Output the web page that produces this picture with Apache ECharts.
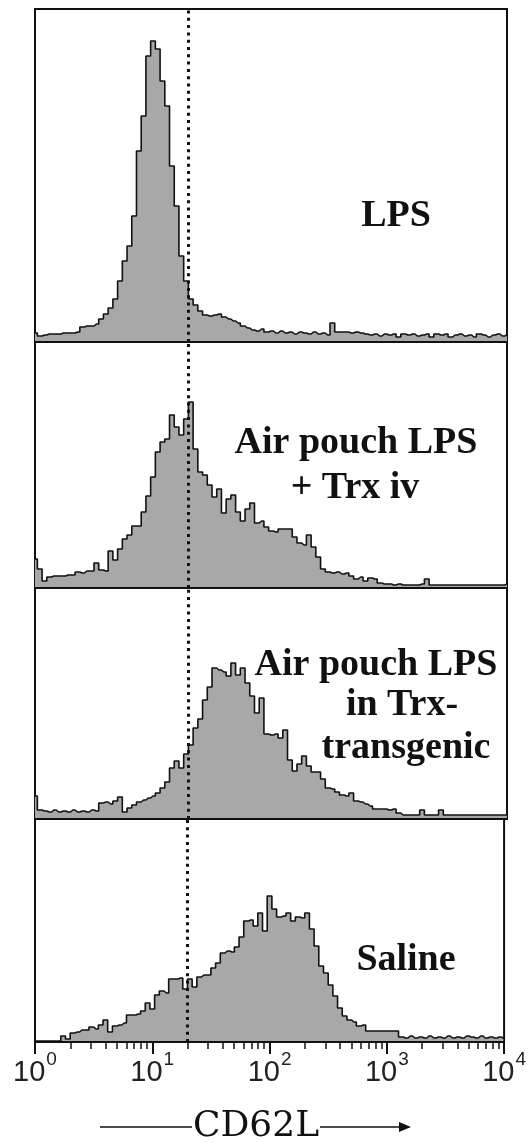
<!DOCTYPE html>
<html>
<head>
<meta charset="utf-8">
<title>CD62L histograms</title>
<script src="https://cdn.jsdelivr.net/npm/echarts@6/dist/echarts.min.js"></script>
<style>
  html, body { margin: 0; padding: 0; background: #fff; }
  #chart { width: 529px; height: 1143px; }
</style>
</head>
<body>
<div id="chart"></div>
<script>
// channel grid in log10 units, 0.04 decade per bin, 10^0 .. 10^4
const binStep = 0.04
const decadeLabels = ['0', '1', '2', '3', '4']
const gateValue = 20

const panelLabels = [
  ['LPS'],
  ['Air pouch LPS', '+ Trx iv'],
  ['Air pouch LPS', 'in Trx-', 'transgenic'],
  ['Saline']
]

// event counts per channel
const lpsCounts = [
  8, 5, 6, 7, 7, 7, 8, 8, 8, 9,
  14, 15, 15, 17, 22, 27, 33, 42, 60, 80,
  95, 125, 190, 225, 285, 300, 292, 260, 235, 175,
  135, 85, 60, 42, 36, 30, 26, 25, 26, 27,
  24, 22, 20, 18, 15, 13, 11, 10, 12, 9,
  10, 8, 10, 8, 9, 7, 9, 8, 7, 9,
  7, 8, 6, 18, 9, 9, 9, 8, 9, 8,
  7, 6, 7, 5, 7, 6, 7, 4, 7, 6,
  7, 5, 6, 7, 4, 7, 6, 7, 4, 6,
  7, 5, 6, 4, 7, 6, 4, 6, 7, 5, 6
]
const trxIvCounts = [
  28, 18, 6, 10, 11, 11, 11, 12, 12, 15,
  14, 16, 16, 24, 17, 16, 36, 27, 38, 48,
  52, 61, 61, 75, 91, 110, 135, 145, 148, 172,
  160, 152, 168, 185, 138, 115, 112, 102, 90, 98,
  74, 88, 92, 75, 66, 78, 84, 64, 66, 60,
  56, 55, 58, 58, 58, 50, 44, 42, 52, 40,
  30, 18, 15, 14, 15, 13, 14, 11, 8, 10,
  6, 9, 8, 4, 3, 3, 2, 3, 2, 2,
  2, 2, 3, 8, 2, 2, 2, 2, 2, 2,
  2, 2, 2, 2, 2, 2, 2, 2, 2, 2, 3
]
const transgenicCounts = [
  22, 8, 7, 6, 8, 6, 7, 6, 8, 6,
  7, 6, 8, 7, 15, 16, 14, 17, 21, 6,
  10, 13, 16, 18, 20, 22, 25, 30, 36, 50,
  57, 50, 64, 73, 90, 99, 118, 131, 150, 148,
  146, 142, 155, 143, 150, 135, 122, 105, 120, 84,
  83, 84, 80, 88, 58, 47, 54, 62, 52, 46,
  46, 39, 30, 29, 26, 23, 22, 25, 17, 16,
  14, 12, 9, 9, 9, 8, 9, 5, 3, 3,
  3, 3, 8, 3, 3, 3, 8, 3, 3, 3,
  3, 3, 3, 3, 3, 3, 3, 3, 3, 3, 3
]
const salineCounts = [
  0, 0, 0, 0, 0, 0, 5, 2, 8, 9,
  11, 11, 14, 12, 16, 21, 9, 15, 16, 18,
  26, 26, 27, 30, 38, 32, 46, 50, 48, 62,
  62, 63, 52, 62, 54, 64, 66, 66, 73, 78,
  88, 90, 89, 94, 104, 120, 121, 115, 128, 110,
  145, 132, 124, 125, 128, 120, 124, 123, 128, 112,
  95, 75, 68, 56, 45, 33, 25, 21, 19, 15,
  16, 10, 10, 10, 10, 10, 10, 10, 4, 3,
  5, 3, 4, 3, 5, 3, 4, 3, 5, 3,
  4, 3, 5, 4, 3, 5, 3, 4, 3, 4, 2
]

const panels = [lpsCounts, trxIvCounts, transgenicCounts, salineCounts]
const panelBoxes = [
  { top: 9, height: 333 },
  { top: 342, height: 246 },
  { top: 588, height: 231 },
  { top: 819, height: 223 }
]
const labelSpots = [
  [[396, 216]],
  [[356, 443], [355, 488]],
  [[376, 665], [402, 705], [406, 748]],
  [[406, 960]]
]

const majorTicks = decadeLabels.map(Number)
const minorTicks = []
for (let d = 0; d < 4; d++) {
  for (const k of [2, 3, 4, 5, 6, 7, 8, 9]) minorTicks.push(d + Math.log10(k))
}
const gateLog = Math.log10(gateValue)

const chart = echarts.init(document.getElementById('chart'), null, { renderer: 'canvas' })

const grid = panelBoxes.map(b => ({
  left: 35,
  right: 22,
  top: b.top,
  height: b.height,
  show: true,
  borderColor: '#111',
  borderWidth: 2,
  backgroundColor: 'transparent'
}))

const xAxis = panelBoxes.map((b, i) => ({
  gridIndex: i,
  type: 'value',
  min: 0,
  max: 4,
  axisLine: { show: false },
  splitLine: { show: false },
  axisTick: i === 3
    ? { show: true, customValues: majorTicks, length: 13, lineStyle: { color: '#111', width: 2 } }
    : { show: false },
  axisLabel: i === 3
    ? {
        show: true,
        customValues: majorTicks,
        margin: 16,
        formatter: v => '{b|10}{s|' + decadeLabels[Math.round(v)] + '}',
        rich: {
          b: { fontFamily: 'Liberation Sans', fontSize: 29, lineHeight: 29, color: '#222', verticalAlign: 'bottom' },
          s: { fontFamily: 'Liberation Sans', fontSize: 19, lineHeight: 19, color: '#222', verticalAlign: 'bottom', padding: [0, 0, 18, 1] }
        }
      }
    : { show: false }
}))
// minor decade ticks under the bottom panel
xAxis.push({
  gridIndex: 3,
  type: 'value',
  min: 0,
  max: 4,
  position: 'bottom',
  axisLine: { show: false },
  splitLine: { show: false },
  axisLabel: { show: false },
  axisTick: { show: true, customValues: minorTicks, length: 7, lineStyle: { color: '#111', width: 1.5 } }
})

const yAxis = panelBoxes.map((b, i) => ({
  gridIndex: i,
  type: 'value',
  min: -1,
  max: b.height - 1,
  show: false
}))

const series = panels.map((counts, i) => ({
  type: 'line',
  xAxisIndex: i,
  yAxisIndex: i,
  data: counts.map((c, k) => [k * binStep, c]),
  step: 'middle',
  symbol: 'none',
  silent: true,
  lineStyle: { color: '#111', width: 1.6 },
  areaStyle: { color: '#a8a8a8', opacity: 1 },
  markLine: {
    silent: true,
    symbol: ['none', 'none'],
    label: { show: false },
    lineStyle: { type: [3, 4.3], color: '#111', width: 3 },
    data: [{ xAxis: gateLog }]
  }
}))

const graphic = []
panelLabels.forEach((lines, i) => {
  lines.forEach((t, j) => {
    graphic.push({
      type: 'text',
      x: labelSpots[i][j][0],
      y: labelSpots[i][j][1],
      style: {
        text: t,
        font: 'bold 38px "Liberation Serif"',
        fill: '#111',
        align: 'center',
        verticalAlign: 'middle',
        textAlign: 'center',
        textVerticalAlign: 'middle'
      }
    })
  })
})
graphic.push(
  {
    type: 'text',
    x: 256,
    y: 1127,
    style: {
      text: 'CD62L',
      font: '36px "DejaVu Serif"',
      fill: '#111',
      align: 'center',
      verticalAlign: 'middle',
      textAlign: 'center',
      textVerticalAlign: 'middle'
    }
  },
  { type: 'line', shape: { x1: 100, y1: 1127, x2: 192, y2: 1127 }, style: { stroke: '#111', lineWidth: 1.5 } },
  { type: 'line', shape: { x1: 320, y1: 1127, x2: 402, y2: 1127 }, style: { stroke: '#111', lineWidth: 1.5 } },
  { type: 'polygon', shape: { points: [[411, 1127], [399, 1122], [399, 1132]] }, style: { fill: '#111' } }
)

chart.setOption({
  animation: false,
  backgroundColor: '#fff',
  grid,
  xAxis,
  yAxis,
  series,
  graphic
})
</script>
</body>
</html>
